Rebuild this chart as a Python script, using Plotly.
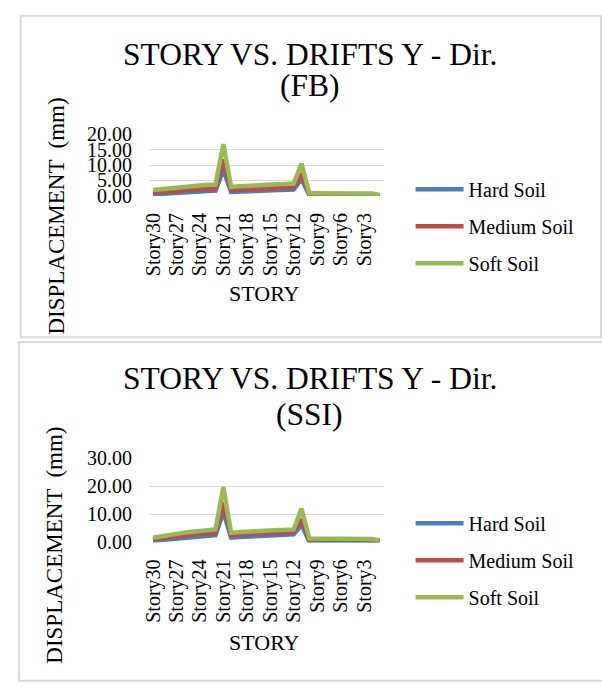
import plotly.graph_objects as go

W, H = 602, 688

stories = ["Story30", "Story29", "Story28", "Story27", "Story26", "Story25", "Story24", "Story23",
           "Story22", "Story21", "Story20", "Story19", "Story18", "Story17", "Story16", "Story15",
           "Story14", "Story13", "Story12", "Story11", "Story10", "Story9", "Story8", "Story7",
           "Story6", "Story5", "Story4", "Story3", "Story2", "Story1"]
tick_labels = ["Story30", "Story27", "Story24", "Story21", "Story18", "Story15",
               "Story12", "Story9", "Story6", "Story3"]
series_names = ["Hard Soil", "Medium Soil", "Soft Soil"]

# Fixed base (FB)
hard_fb = [0.5, 0.7, 0.9, 1.1, 1.2, 1.4, 1.5, 1.6, 1.7, 8.5,
           1.3, 1.4, 1.5, 1.6, 1.7, 1.8, 1.9, 2.0, 2.1, 5.5,
           0.3, 0.3, 0.3, 0.3, 0.3, 0.3, 0.3, 0.3, 0.2, 0.1]
medium_fb = [1.2, 1.4, 1.6, 1.8, 1.9, 2.1, 2.2, 2.3, 2.4, 11.8,
             1.9, 2.0, 2.1, 2.3, 2.4, 2.5, 2.6, 2.7, 2.9, 7.3,
             0.5, 0.5, 0.5, 0.5, 0.5, 0.5, 0.5, 0.5, 0.4, 0.2]
soft_fb = [1.9, 2.2, 2.5, 2.7, 3.0, 3.2, 3.4, 3.6, 3.7, 16.8,
           2.9, 3.1, 3.3, 3.4, 3.6, 3.7, 3.8, 3.9, 4.0, 10.5,
           0.9, 0.9, 0.9, 0.9, 0.9, 0.9, 0.9, 0.8, 0.8, 0.3]

# Soil-structure interaction (SSI)
hard_ssi = [0.6, 0.9, 1.2, 1.5, 1.8, 2.0, 2.2, 2.4, 2.6, 10.9,
            1.7, 1.9, 2.1, 2.2, 2.4, 2.5, 2.6, 2.8, 2.9, 6.3,
            0.3, 0.3, 0.3, 0.3, 0.3, 0.3, 0.3, 0.3, 0.2, 0.1]
medium_ssi = [1.1, 1.5, 1.9, 2.2, 2.5, 2.8, 3.0, 3.2, 3.4, 14.3,
              2.6, 2.8, 3.0, 3.1, 3.3, 3.4, 3.5, 3.6, 3.8, 8.3,
              0.9, 0.9, 0.9, 0.9, 0.9, 0.9, 0.9, 0.9, 0.8, 0.4]
soft_ssi = [1.7, 2.2, 2.7, 3.1, 3.5, 3.8, 4.1, 4.4, 4.6, 19.7,
            3.4, 3.7, 3.9, 4.0, 4.2, 4.3, 4.4, 4.5, 4.6, 12.1,
            1.4, 1.4, 1.4, 1.4, 1.4, 1.4, 1.4, 1.3, 1.2, 0.8]

colors = ["#4A7EBB", "#BE4B48", "#98B954"]
FONT = "Liberation Serif, Times New Roman, serif"


def px(x):
    return x / W


def py(y):
    return 1 - y / H


fig = go.Figure()

for i, (vals, name) in enumerate(zip([hard_fb, medium_fb, soft_fb], series_names)):
    fig.add_trace(go.Scatter(x=stories, y=vals, name=name, mode="lines",
                             line=dict(color=colors[i], width=4.5),
                             xaxis="x", yaxis="y", legend="legend",
                             legendgroup="a%d" % i))
for i, (vals, name) in enumerate(zip([hard_ssi, medium_ssi, soft_ssi], series_names)):
    fig.add_trace(go.Scatter(x=stories, y=vals, name=name, mode="lines",
                             line=dict(color=colors[i], width=4.5),
                             xaxis="x2", yaxis="y2", legend="legend2",
                             legendgroup="b%d" % i))

xcommon = dict(type="category", categoryorder="array", categoryarray=stories,
               range=[-0.5, 29.5], tickmode="array", tickvals=tick_labels,
               ticktext=tick_labels, tickangle=-90, showgrid=False,
               showline=False, zeroline=False, ticks="",
               tickfont=dict(family=FONT, size=20, color="#000000"),
               ticklabelstandoff=12)
ycommon = dict(showgrid=True, gridcolor="#D9D9D9", gridwidth=1, zeroline=False,
               showline=False, ticks="", tickformat=".2f",
               tickfont=dict(family=FONT, size=20, color="#000000"),
               ticklabelstandoff=16)

fig.update_layout(
    width=W, height=H,
    margin=dict(l=0, r=0, t=0, b=0),
    paper_bgcolor="white", plot_bgcolor="white",
    showlegend=True,
    xaxis=dict(domain=[px(143), px(380.6)], anchor="y", **xcommon),
    yaxis=dict(domain=[py(191), py(127.4)], anchor="x", range=[0, 20], dtick=5, **ycommon),
    xaxis2=dict(domain=[px(143), px(380.6)], anchor="y2", **xcommon),
    yaxis2=dict(domain=[py(549), py(462)], anchor="x2", range=[0, 30], dtick=10, **ycommon),
    legend=dict(x=px(408), y=py(164), xanchor="left", yanchor="top",
                font=dict(family=FONT, size=20, color="#000000"),
                bgcolor="rgba(0,0,0,0)", tracegroupgap=8, itemwidth=48),
    legend2=dict(x=px(408), y=py(509), xanchor="left", yanchor="top",
                 font=dict(family=FONT, size=20, color="#000000"),
                 bgcolor="rgba(0,0,0,0)", tracegroupgap=8, itemwidth=48),
)

# chart borders
fig.add_shape(type="rect", xref="paper", yref="paper",
              x0=px(13), x1=px(601), y0=py(5), y1=py(337),
              line=dict(color="#D9D9D9", width=2), fillcolor="rgba(0,0,0,0)", layer="below")
fig.add_shape(type="rect", xref="paper", yref="paper",
              x0=px(11), x1=px(604), y0=py(342), y1=py(692),
              line=dict(color="#D9D9D9", width=2), fillcolor="rgba(0,0,0,0)", layer="below")

tfont = dict(family=FONT, size=31.5, color="#000000")
afont = dict(family=FONT, size=22, color="#000000")


def ann(text, x, y, font, angle=0):
    fig.add_annotation(text=text, x=px(x), y=py(y), xref="paper", yref="paper",
                       showarrow=False, font=font, textangle=angle,
                       xanchor="center", yanchor="middle")


# titles
ann("STORY VS. DRIFTS Y - Dir.", 306, 45, tfont)
ann("(FB)", 306, 77, tfont)
ann("STORY VS. DRIFTS Y - Dir.", 306, 380, tfont)
ann("(SSI)", 306, 417, tfont)

# axis titles
ann("STORY", 260, 292, afont)
ann("STORY", 260, 652, afont)
ann("DISPLACEMENT  (mm)", 49, 212, dict(family=FONT, size=23, color="#000000"), -90)
ann("DISPLACEMENT  (mm)", 47, 552, dict(family=FONT, size=23, color="#000000"), -90)

fig.write_html("out.html",
               config={"displayModeBar": False},
               post_script="document.body.style.margin='0px';"
                           "document.body.style.padding='0px';"
                           "document.body.style.overflow='hidden';")
